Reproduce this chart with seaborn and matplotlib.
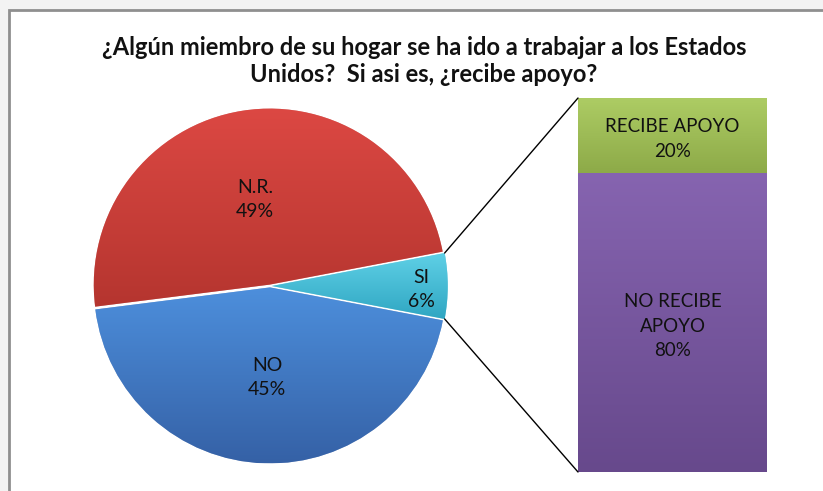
import numpy as np
import matplotlib
matplotlib.use("Agg")
import matplotlib.pyplot as plt
import matplotlib.colors as mcolors
from matplotlib.patches import Rectangle, ConnectionPatch
import seaborn as sns

# ---- data ----
pie_labels = ["SI", "N.R.", "NO"]
pie_values = [6, 49, 45]
bar_labels = ["RECIBE APOYO", "NO RECIBE\nAPOYO"]
bar_values = [20, 80]
title = ("¿Algún miembro de su hogar se ha ido a trabajar a los Estados\n"
         "Unidos?  Si asi es, ¿recibe apoyo?")

# gradient colours (top, bottom) per segment
pie_colors = [("#5fd0e6", "#2fa6c2"), ("#dc4843", "#b5352f"), ("#4d8fdc", "#3561a6")]
bar_colors = [("#adcc64", "#8daa48"), ("#8664b0", "#67498c")]

sns.set_theme(style="white")
plt.rcParams["font.family"] = ["Lato", "DejaVu Sans"]

W, H = 823, 491
fig = plt.figure(figsize=(W / 100, H / 100), dpi=100)
fig.patch.set_facecolor("#f3f3f3")

# chart area frame
bg = fig.add_axes([0, 0, 1, 1], zorder=-10)
bg.set_xlim(0, W)
bg.set_ylim(H, 0)
bg.axis("off")
bg.add_patch(Rectangle((9.5, 9.5), W + 10, H + 10, facecolor="white",
                       edgecolor="#8f8f8f", linewidth=2))


def gradient_fill(ax, patch, top, bottom, extent):
    """Fill a patch with a vertical gradient clipped to its outline."""
    cmap = mcolors.LinearSegmentedColormap.from_list("g", [bottom, top])
    grad = np.linspace(0, 1, 256).reshape(-1, 1)
    x0, x1, y0, y1 = extent
    im = ax.imshow(grad, cmap=cmap, origin="lower", aspect="auto",
                   extent=(x0, x1, y0, y1), zorder=patch.get_zorder() + 0.1,
                   interpolation="bicubic")
    im.set_clip_path(patch)
    return im


# ---- pie ----
cx, cy, r = 270, 286, 176
pie_ax = fig.add_axes([(cx - r * 1.1) / W, (H - cy - r * 1.1) / H,
                       2.2 * r / W, 2.2 * r / H])
start = -pie_values[0] / 100 * 360 / 2
wedges, texts = pie_ax.pie(pie_values, startangle=start, counterclock=True,
                           explode=[0.01, 0.008, 0.008],
                           colors=[c[1] for c in pie_colors],
                           wedgeprops=dict(linewidth=1.2, edgecolor="#ffffff80"))
pie_ax.set_xlim(-1.1, 1.1)
pie_ax.set_ylim(-1.1, 1.1)
pie_ax.set_aspect("equal")
pie_ax.axis("off")

for w, (top, bot) in zip(wedges, pie_colors):
    th1, th2 = np.deg2rad(w.theta1), np.deg2rad(w.theta2)
    ths = np.linspace(th1, th2, 100)
    cxw, cyw = w.center
    ys = np.concatenate([[cyw], cyw + w.r * np.sin(ths)])
    gradient_fill(pie_ax, w, top, bot, (-1.1, 1.1, ys.min(), ys.max()))

label_pos = {"SI": (0.86, -0.02), "N.R.": (-0.085, 0.49), "NO": (-0.017, -0.52)}
for lab, val in zip(pie_labels, pie_values):
    x, y = label_pos[lab]
    pie_ax.text(x, y, f"{lab}\n{val}%", ha="center", va="center",
                fontsize=14, color="#111111", linespacing=1.5, zorder=10)

# ---- bar of pie ----
bx0, bx1, by0, by1 = 578, 767, 98, 472
bar_ax = fig.add_axes([bx0 / W, (H - by1) / H, (bx1 - bx0) / W, (by1 - by0) / H])
cum = np.cumsum(bar_values[::-1])[::-1]  # stacked heights: top segment first
sns.barplot(x=[0], y=[cum[0]], color=bar_colors[0][1], width=1, ax=bar_ax,
            edgecolor="#ffffff60", linewidth=1.2)
sns.barplot(x=[0], y=[cum[1]], color=bar_colors[1][1], width=1, ax=bar_ax,
            edgecolor="#ffffff60", linewidth=1.2)
bar_ax.set_xlim(-0.5, 0.5)
bar_ax.set_ylim(0, 100)
bar_ax.axis("off")

bars = bar_ax.patches
lows = [cum[1], 0]
for p, (top, bot), lo, hi in zip(bars, bar_colors, lows, cum):
    gradient_fill(bar_ax, p, top, bot, (-0.5, 0.5, lo, hi))

for lab, val, lo, hi in zip(bar_labels, bar_values, lows, cum):
    bar_ax.text(0, (lo + hi) / 2 - 1, f"{lab}\n{val}%", ha="center", va="center",
                fontsize=13.5, color="#111111", linespacing=1.55, zorder=10)

# ---- connector lines ----
sw = wedges[0]
for ang, yb in [(sw.theta2, 100), (sw.theta1, 0)]:
    a = np.deg2rad(ang)
    p0 = (sw.center[0] + np.cos(a), sw.center[1] + np.sin(a))
    con = ConnectionPatch(xyA=p0, coordsA=pie_ax.transData,
                          xyB=(-0.5, yb), coordsB=bar_ax.transData,
                          color="black", linewidth=1.0)
    fig.add_artist(con)

fig.text(424 / W, 1 - 61 / H, title, ha="center", va="center",
         fontsize=17, fontweight="bold", color="#111111", linespacing=1.2)

fig.savefig("out.png", dpi=100, facecolor=fig.get_facecolor())
